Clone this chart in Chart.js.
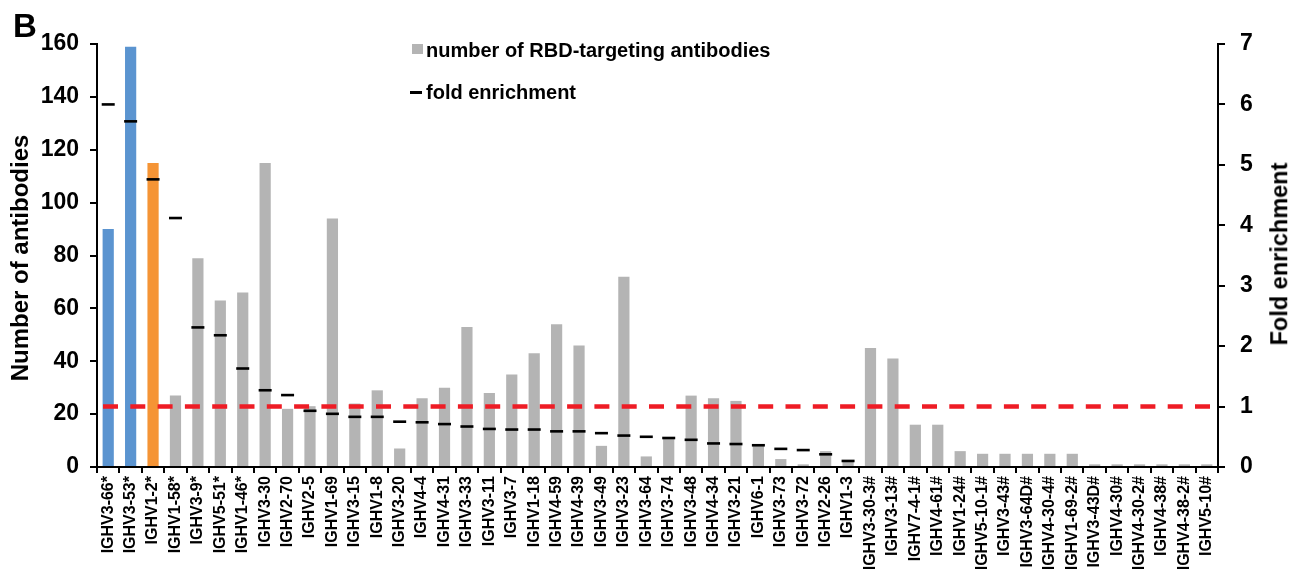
<!DOCTYPE html>
<html>
<head>
<meta charset="utf-8">
<script src="https://cdn.jsdelivr.net/npm/chart.js@4/dist/chart.umd.min.js"></script>
<style>
  html, body { margin: 0; padding: 0; background: #ffffff; }
  #wrap { position: relative; width: 1293px; height: 569px; overflow: hidden;
          font-family: Arial, "Liberation Sans", sans-serif; color: #000; }
  #chart { position: absolute; left: 0; top: 0; }
  .txt { position: absolute; font-weight: bold; line-height: 1; white-space: nowrap; }
  .panel { left: 13px; top: 9px; font-size: 33px; }
  .leg { left: 426px; font-size: 20px; }
  .swatch { position: absolute; }
  .vtitle { transform: translate(-50%, -50%) rotate(-90deg); }
</style>
</head>
<body>
<div id="wrap">
  <canvas id="chart" width="1293" height="569"></canvas>
  <div class="txt panel">B</div>
  <div class="swatch" style="left:412px;top:44px;width:11px;height:10px;background:#b4b4b4;"></div>
  <div class="txt leg" style="top:40px;">number of RBD-targeting antibodies</div>
  <div class="swatch" style="left:410px;top:91px;width:12px;height:3px;background:#000;"></div>
  <div class="txt leg" style="top:82px;">fold enrichment</div>
  <div class="txt vtitle" style="left:20px;top:258px;font-size:24px;">Number of antibodies</div>
  <div class="txt vtitle" style="left:1280px;top:254px;font-size:23.5px;">Fold enrichment</div>
</div>
<script>
// IGHV germline genes, ordered by fold enrichment
const genes = [
  'IGHV3-66*', 'IGHV3-53*', 'IGHV1-2*', 'IGHV1-58*', 'IGHV3-9*', 'IGHV5-51*', 'IGHV1-46*',
  'IGHV3-30', 'IGHV2-70', 'IGHV2-5', 'IGHV1-69', 'IGHV3-15', 'IGHV1-8', 'IGHV3-20', 'IGHV4-4',
  'IGHV4-31', 'IGHV3-33', 'IGHV3-11', 'IGHV3-7', 'IGHV1-18', 'IGHV4-59', 'IGHV4-39', 'IGHV3-49',
  'IGHV3-23', 'IGHV3-64', 'IGHV3-74', 'IGHV3-48', 'IGHV4-34', 'IGHV3-21', 'IGHV6-1', 'IGHV3-73',
  'IGHV3-72', 'IGHV2-26', 'IGHV1-3',
  'IGHV3-30-3#', 'IGHV3-13#', 'IGHV7-4-1#', 'IGHV4-61#', 'IGHV1-24#', 'IGHV5-10-1#', 'IGHV3-43#',
  'IGHV3-64D#', 'IGHV4-30-4#', 'IGHV1-69-2#', 'IGHV3-43D#', 'IGHV4-30#', 'IGHV4-30-2#',
  'IGHV4-38#', 'IGHV4-38-2#', 'IGHV5-10#'
];

// number of RBD-targeting antibodies per gene
const antibodyCounts = [
  90, 159, 115, 27, 79, 63, 66,
  115, 22, 23, 94, 24, 29, 7, 26,
  30, 53, 28, 35, 43, 54, 46, 8,
  72, 4, 11, 27, 26, 25, 8, 3,
  1, 6, 2,
  45, 41, 16, 16, 6, 5, 5,
  5, 5, 5, 1, 1, 1,
  1, 1, 1
];

// fold enrichment per gene (not available for the # genes)
const foldEnrichment = [
  6.00, 5.72, 4.76, 4.12, 2.31, 2.18, 1.63,
  1.27, 1.19, 0.93, 0.88, 0.83, 0.83, 0.75, 0.74,
  0.71, 0.67, 0.63, 0.62, 0.62, 0.59, 0.59, 0.56,
  0.52, 0.50, 0.48, 0.45, 0.39, 0.38, 0.36, 0.30,
  0.28, 0.21, 0.10,
  null, null, null, null, null, null, null,
  null, null, null, null, null, null,
  null, null, null
];

// enrichment baseline
const baselineFold = 1;

const countTicks = [0, 20, 40, 60, 80, 100, 120, 140, 160];
const foldTicks = [0, 1, 2, 3, 4, 5, 6, 7];

const BLUE = '#5b94d0';
const ORANGE = '#f59435';
const GRAY = '#b4b4b4';
const barColors = genes.map((g, i) => i < 2 ? BLUE : (i === 2 ? ORANGE : GRAY));

const FONT = 'Arial, "Liberation Sans", sans-serif';

// dashed reference line across the plot at the baseline enrichment
const baselinePlugin = {
  id: 'baselineLine',
  afterDatasetsDraw(chart) {
    const { ctx, chartArea } = chart;
    const y = chart.scales.y1.getPixelForValue(baselineFold);
    ctx.save();
    ctx.strokeStyle = '#ee1c25';
    ctx.lineWidth = 4.5;
    ctx.setLineDash([15, 12.3]);
    ctx.beginPath();
    ctx.moveTo(chartArea.left + 6, y);
    ctx.lineTo(chartArea.right - 4, y);
    ctx.stroke();
    ctx.restore();
  }
};

new Chart(document.getElementById('chart'), {
  data: {
    labels: genes,
    datasets: [
      {
        type: 'line',
        label: 'fold enrichment',
        data: foldEnrichment,
        yAxisID: 'y1',
        showLine: false,
        pointStyle: 'line',
        pointRadius: 6.5,
        pointHoverRadius: 6.5,
        pointBorderWidth: 2.6,
        pointBorderColor: '#000',
        borderColor: '#000',
        order: 0
      },
      {
        type: 'bar',
        label: 'number of RBD-targeting antibodies',
        data: antibodyCounts,
        yAxisID: 'y',
        backgroundColor: barColors,
        categoryPercentage: 1,
        barPercentage: 0.5,
        order: 1
      }
    ]
  },
  options: {
    responsive: false,
    animation: false,
    layout: { padding: { top: 44, left: 0, right: 0, bottom: 0 } },
    plugins: {
      legend: { display: false },
      tooltip: { enabled: false }
    },
    scales: {
      x: {
        type: 'category',
        offset: true,
        grid: { offset: true, drawOnChartArea: false, drawTicks: true, tickLength: 6,
                color: '#000', lineWidth: 2 },
        border: { display: true, color: '#000', width: 2 },
        ticks: { autoSkip: false, maxRotation: 90, minRotation: 90, padding: 3,
                 color: '#000', font: { family: FONT, size: 16, weight: 'bold' } },
        afterFit(scale) { scale.height = 102; }
      },
      y: {
        position: 'left',
        min: 0, max: 160,
        afterBuildTicks(scale) { scale.ticks = countTicks.map(v => ({ value: v })); },
        grid: { drawOnChartArea: false, tickLength: 7, color: '#000', lineWidth: 2 },
        border: { display: true, color: '#000', width: 2 },
        ticks: { padding: 11, color: '#000', font: { family: FONT, size: 23, weight: 'bold' } },
        afterFit(scale) { scale.width = 97; }
      },
      y1: {
        position: 'right',
        min: 0, max: 7,
        afterBuildTicks(scale) { scale.ticks = foldTicks.map(v => ({ value: v })); },
        grid: { drawOnChartArea: false, tickLength: 7, color: '#000', lineWidth: 2 },
        border: { display: true, color: '#000', width: 2 },
        ticks: { padding: 15, color: '#000', font: { family: FONT, size: 23, weight: 'bold' } },
        afterFit(scale) { scale.width = 75; }
      }
    }
  },
  plugins: [baselinePlugin]
});
</script>
</body>
</html>
